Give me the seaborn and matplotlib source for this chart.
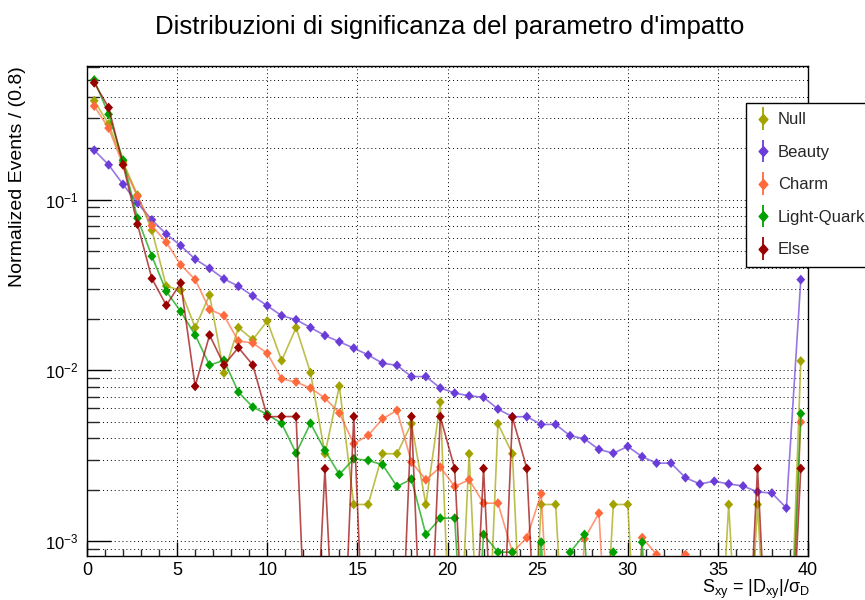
import numpy as np
import pandas as pd
import matplotlib
matplotlib.use("Agg")
import matplotlib.pyplot as plt
import seaborn as sns
from matplotlib.container import ErrorbarContainer
from matplotlib.legend_handler import HandlerErrorbar
from matplotlib.lines import Line2D
from matplotlib.markers import MarkerStyle
from matplotlib.path import Path
from matplotlib.ticker import MultipleLocator, LogLocator, NullFormatter

# ---- data: normalized impact-parameter significance, 50 bins of width 0.8 ----
bin_width = 0.8
bin_centers = np.arange(50) * bin_width + bin_width / 2

null_vals = [0.380, 0.277, 0.166, 0.1063, 0.0662, 0.0311, 0.02945, 0.0178, 0.02764, 0.00964,
             0.0178, 0.01514, 0.01946, 0.0114, 0.0178, 0.00969, 0.003246, 0.00809, 0.001637, 0.001637,
             0.003246, 0.003246, 0.004869, 0.001637, 0.006518, 0.0, 0.003246, 0.0, 0.004869, 0.003246,
             0.0, 0.001637, 0.001637, 0.0, 0.0, 0.0, 0.001637, 0.001637, 0.0, 0.0,
             0.0, 0.0, 0.0, 0.0, 0.001637, 0.0, 0.001637, 0.0, 0.0, 0.01134]

beauty_vals = [0.195, 0.160, 0.123, 0.0957, 0.0761, 0.0628, 0.0538, 0.0448, 0.0396, 0.0343,
               0.0311, 0.0273, 0.0239, 0.0209, 0.0198, 0.0178, 0.0160, 0.0147, 0.0135, 0.0123,
               0.0110, 0.0107, 0.00919, 0.00919, 0.00788, 0.00736, 0.00709, 0.00695, 0.00593, 0.00535,
               0.00535, 0.00482, 0.00482, 0.00414, 0.00397, 0.00344, 0.00327, 0.00358, 0.00312, 0.00286,
               0.00286, 0.00235, 0.00216, 0.00224, 0.00216, 0.00210, 0.00194, 0.00191, 0.00156, 0.0340]

charm_vals = [0.3535, 0.2627, 0.1594, 0.1046, 0.07039, 0.05632, 0.04147, 0.03404, 0.0227, 0.02093,
              0.01485, 0.01446, 0.01258, 0.00892, 0.00854, 0.00787, 0.00688, 0.00562, 0.003716, 0.004157,
              0.005209, 0.005825, 0.002899, 0.002286, 0.002709, 0.002088, 0.002286, 0.001666, 0.001666, 0.000860,
              0.001044, 0.001891, 0.0, 0.0, 0.00103, 0.001456, 0.0, 0.0, 0.001047, 0.000833,
              0.0, 0.000833, 0.0, 0.0, 0.0, 0.0, 0.0, 0.0, 0.0, 0.004975]

light_vals = [0.5022, 0.3164, 0.1705, 0.0779, 0.04662, 0.02906, 0.02210, 0.01611, 0.01074, 0.01144,
              0.007459, 0.006092, 0.005519, 0.004888, 0.003273, 0.004895, 0.003395, 0.002455, 0.003034, 0.002966,
              0.002798, 0.002088, 0.002304, 0.001092, 0.001361, 0.001361, 0.0, 0.001092, 0.000860, 0.000860,
              0.0, 0.000984, 0.0, 0.000860, 0.001092, 0.0, 0.000860, 0.0, 0.000984, 0.0,
              0.0, 0.0, 0.0, 0.0, 0.0, 0.0, 0.0, 0.0, 0.0, 0.005572]

else_vals = [0.4842, 0.3464, 0.1605, 0.07183, 0.03450, 0.02405, 0.03251, 0.00806, 0.01611, 0.01074,
             0.01359, 0.01074, 0.005351, 0.00536, 0.00536, 0.0, 0.002652, 0.0, 0.00536, 0.0,
             0.0, 0.0, 0.00536, 0.0, 0.00536, 0.002652, 0.0, 0.00266, 0.0, 0.00532,
             0.00266, 0.0, 0.0, 0.0, 0.0, 0.0, 0.0, 0.0, 0.0, 0.0,
             0.0, 0.0, 0.0, 0.0, 0.0, 0.0, 0.00266, 0.0, 0.0, 0.00266]

series_names = ["Null", "Beauty", "Charm", "Light-Quark", "Else"]
series_vals = [null_vals, beauty_vals, charm_vals, light_vals, else_vals]
series_colors = ["#a3a300", "#6a3dd8", "#ff6a3d", "#00a000", "#990000"]

title = "Distribuzioni di significanza del parametro d'impatto"
y_title = "Normalized Events / (0.8)"
x_title = r"S$_{xy}$ = |D$_{xy}$|/σ$_{D}$"

# ---- style ----
sns.set_theme(style="white")
plt.rcParams["font.family"] = ["Liberation Sans", "DejaVu Sans"]
plt.rcParams["mathtext.fontset"] = "custom"
plt.rcParams["mathtext.rm"] = "Liberation Sans"
plt.rcParams["mathtext.it"] = "Liberation Sans"
plt.rcParams["mathtext.sf"] = "Liberation Sans"
plt.rcParams["mathtext.default"] = "regular"

W, H = 865, 600
fig = plt.figure(figsize=(W / 100, H / 100), dpi=100)
fig.patch.set_facecolor("white")
ax = fig.add_axes([87 / W, 1 - 556 / H, (808 - 87) / W, (556 - 66) / H])
ax.set_facecolor("white")
ax.set_yscale("log")

# empty bins sit far below the visible range so their lines run off the bottom
floor = 5e-5

diamond = MarkerStyle(Path([(0, 1), (0.9, 0), (0, -1), (-0.9, 0), (0, 1)],
                           [Path.MOVETO, Path.LINETO, Path.LINETO, Path.LINETO, Path.CLOSEPOLY]))

for k, (name, vals, col) in enumerate(zip(series_names, series_vals, series_colors)):
    v = np.asarray(vals, dtype=float)
    df = pd.DataFrame({"x": bin_centers, "y": np.where(v > 0, v, floor)})
    sns.lineplot(data=df, x="x", y="y", color=col, linewidth=1.2, alpha=0.7,
                 estimator=None, sort=False, legend=False, ax=ax, zorder=3 + 2 * k)
    sns.scatterplot(data=df, x="x", y="y", color=col, marker=diamond, s=50,
                    linewidth=0, edgecolor="none", legend=False, ax=ax, zorder=4 + 2 * k)

ax.set_xlim(0, 40)
ax.set_ylim(8.17e-4, 0.607)
ax.set_xlabel("")
ax.set_ylabel("")

# ticks
ax.xaxis.set_major_locator(MultipleLocator(5))
ax.xaxis.set_minor_locator(MultipleLocator(1))
ax.yaxis.set_major_locator(LogLocator(base=10))
ax.yaxis.set_minor_locator(LogLocator(base=10, subs=np.arange(2, 10)))
ax.yaxis.set_minor_formatter(NullFormatter())
ax.tick_params(axis="x", which="major", direction="in", length=10, width=1, pad=4,
               labelsize=13, colors="black", bottom=True, top=False)
ax.tick_params(axis="x", which="minor", direction="in", length=5, width=1, bottom=True, top=False)
ax.tick_params(axis="y", which="major", direction="in", length=17, width=1, pad=6,
               labelsize=12, colors="black", left=True, right=False)
ax.tick_params(axis="y", which="minor", direction="in", length=8.5, width=1, left=True, right=False)

# dotted grid
grid_kw = dict(color="black", linestyle=(0, (1, 3)), linewidth=0.7)
ax.xaxis.grid(True, which="major", **grid_kw)
ax.xaxis.grid(False, which="minor")
ax.yaxis.grid(True, which="both", **grid_kw)
ax.set_axisbelow(True)

for sp in ax.spines.values():
    sp.set_visible(True)
    sp.set_color("black")
    sp.set_linewidth(1.0)

# titles
fig.text(450 / W, 1 - 27 / H, title, ha="center", va="center", fontsize=18.6, color="black")
fig.text(18 / W, 1 - 66 / H, y_title, ha="center", va="top", rotation=90, fontsize=14, color="black")
fig.text(810 / W, 1 - 593 / H, x_title, ha="right", va="baseline", fontsize=13, color="black")

# legend entries: marker with a vertical error bar
leg_handles = []
for name, col in zip(series_names, series_colors):
    eb = ax.errorbar([np.nan], [np.nan], yerr=[[0.0], [0.0]], fmt="none", ecolor=col,
                     elinewidth=1.3, capsize=0)
    marker_line = Line2D([], [], marker=diamond, markersize=7, color=col, linestyle="none")
    leg_handles.append(ErrorbarContainer((marker_line, (), eb.lines[2]), has_xerr=False,
                                         has_yerr=True, label=name))
leg = ax.legend(handles=leg_handles, loc="upper left",
                bbox_to_anchor=(745.7 / W, 1 - 103.3 / H), bbox_transform=fig.transFigure,
                frameon=True, fancybox=False, shadow=False, framealpha=1, edgecolor="black",
                fontsize=12, handlelength=1.0, handletextpad=0.38, labelspacing=1.05,
                borderpad=0.55, borderaxespad=0,
                handler_map={ErrorbarContainer: HandlerErrorbar(yerr_size=0.68)})
leg.get_frame().set_linewidth(1.0)
leg.set_zorder(20)

fig.savefig("out.png", dpi=100)
